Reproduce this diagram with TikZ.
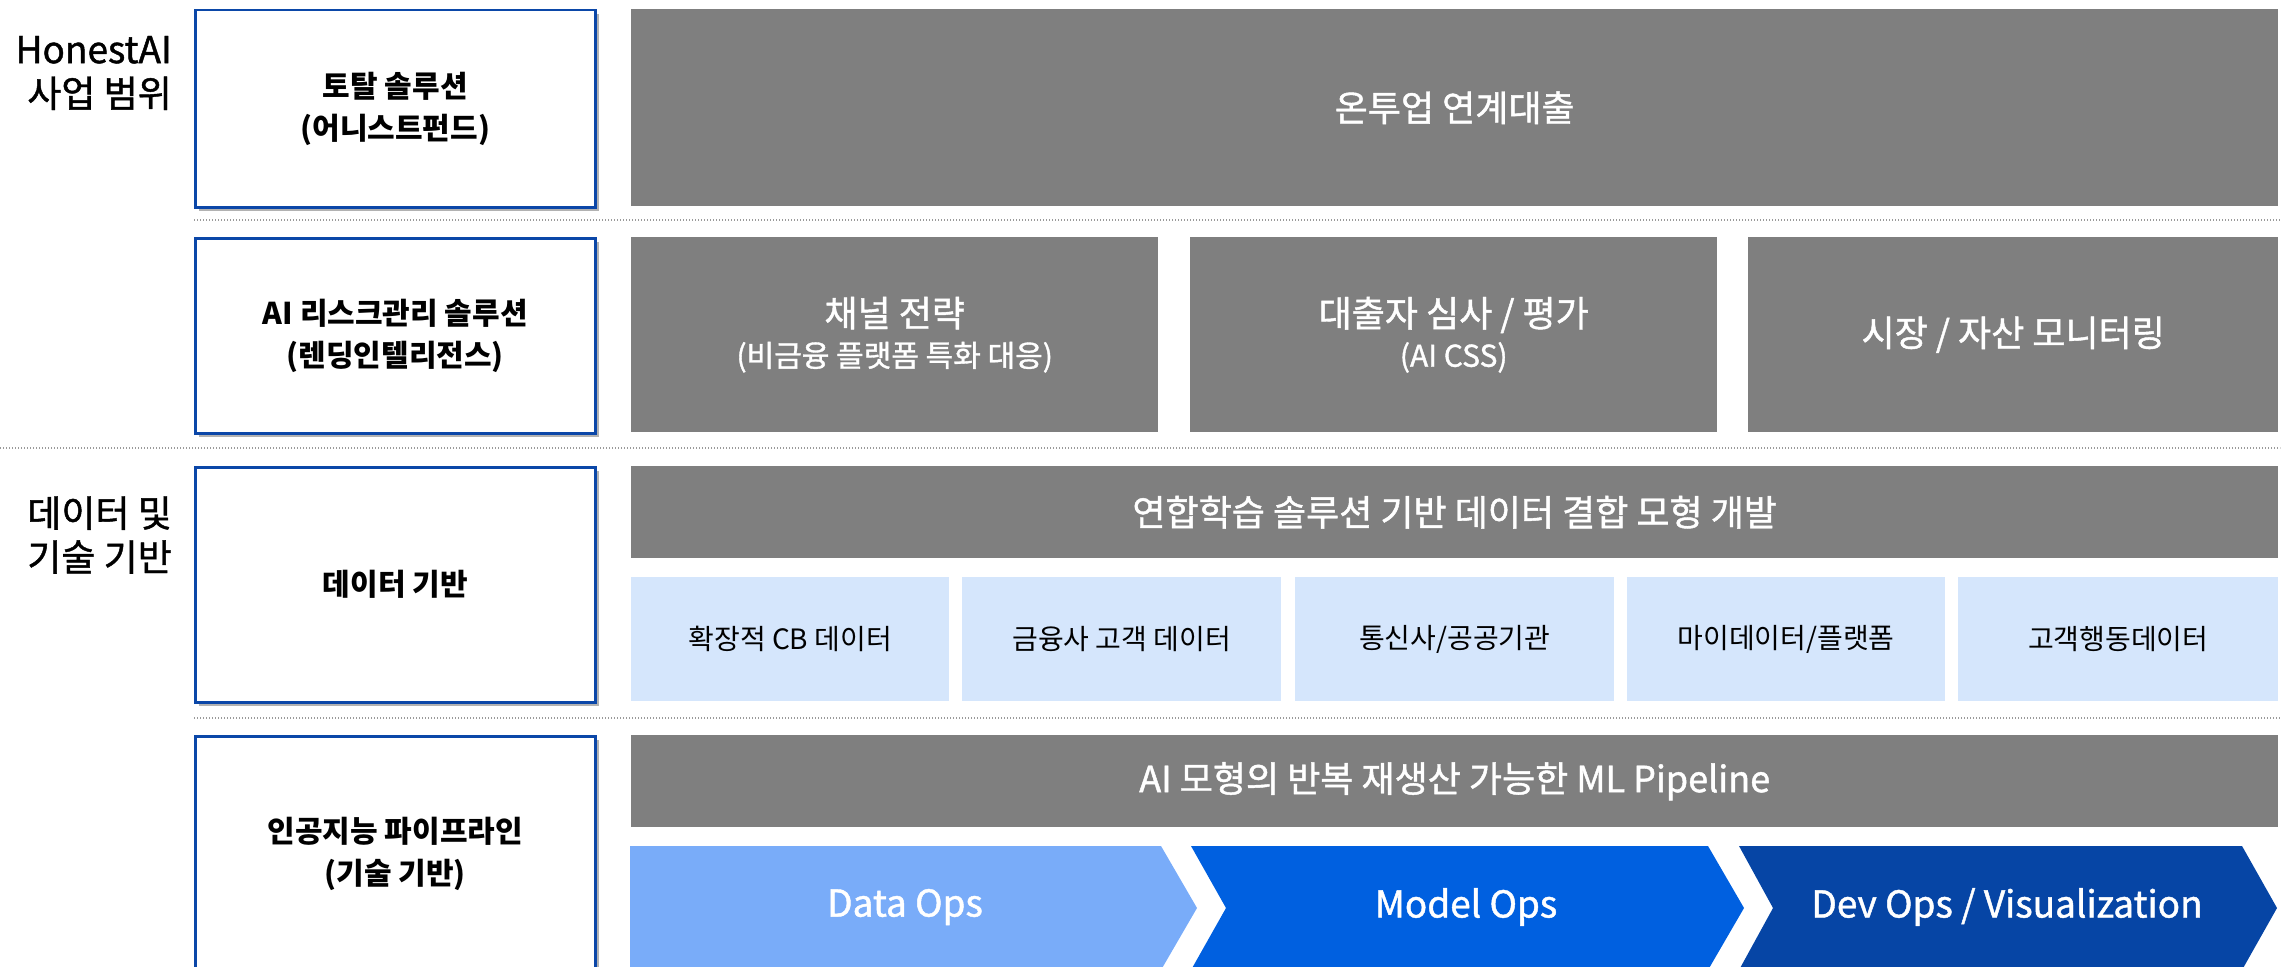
\documentclass[tikz,border=0pt]{standalone}
\usepackage{fontspec}
\setmainfont{Noto Sans CJK KR}
\newfontfamily\medfont[FakeBold=1.2]{Noto Sans CJK KR}
\usetikzlibrary{shadows}
\definecolor{boxblue}{HTML}{0B47A8}
\definecolor{grayfill}{HTML}{7F7F7F}
\definecolor{lightbox}{HTML}{D5E6FC}
\definecolor{chevA}{HTML}{79ACF9}
\definecolor{chevB}{HTML}{0060E0}
\definecolor{chevC}{HTML}{0645A5}
\definecolor{dotgray}{HTML}{9A9A9A}
\tikzset{
  scopebox/.style={draw=boxblue, line width=2.5pt, fill=white,
    drop shadow={shadow xshift=4pt, shadow yshift=-4pt, opacity=0.3, fill=black},
    align=center, anchor=north west, inner sep=0pt, minimum width=400pt,
    font=\fontsize{30}{42}\selectfont\bfseries},
  graybox/.style={fill=grayfill, text=white, anchor=north west, inner sep=0pt,
    align=center, font=\fontsize{36}{42}\selectfont\medfont},
  databox/.style={fill=lightbox, text=black, anchor=north west, inner sep=0pt,
    minimum height=124pt, align=center, font=\fontsize{28}{32}\selectfont},
  sidelabel/.style={anchor=east, align=right, inner sep=0pt, font=\fontsize{37}{44}\selectfont\medfont},
  sep/.style={dotgray, line width=1.3pt, dash pattern=on 1.3pt off 1.7pt},
  chevtext/.style={text=white, inner sep=0pt, font=\fontsize{37}{42}\selectfont\medfont},
  subfont/.style={font=\fontsize{30}{34}\selectfont}
}
\newcommand{\subtxt}[1]{{\fontsize{30}{34}\selectfont #1}}
\begin{document}
\begin{tikzpicture}[x=1pt,y=-1pt]
\useasboundingbox (0,0) rectangle (2290,966);
\clip (0,0) rectangle (2290,966);

% side labels
\node[sidelabel] (lab1) at (172,73) {HonestAI\\사업 범위};
\node[sidelabel] (lab2) at (172,535) {데이터 및\\기술 기반};

% separators
\coordinate (s1a) at (194,220); \coordinate (s1b) at (2280,220);
\coordinate (s2a) at (0,448);   \coordinate (s2b) at (2280,448);
\coordinate (s3a) at (194,718); \coordinate (s3b) at (2280,718);
\draw[sep] (s1a) -- (s1b);
\draw[sep] (s2a) -- (s2b);
\draw[sep] (s3a) -- (s3b);

% left scope boxes
\node[scopebox, minimum height=197pt] (b1) at (194,9) {토탈 솔루션\\(어니스트펀드)};
\node[scopebox, minimum height=195pt] (b2) at (194,237) {AI 리스크관리 솔루션\\(렌딩인텔리전스)};
\node[scopebox, minimum height=235pt] (b3) at (194,466) {데이터 기반};
\node[scopebox, minimum height=235pt] (b4) at (194,735) {인공지능 파이프라인\\(기술 기반)};

% row 1
\node[graybox, minimum width=1647pt, minimum height=197pt] (g1) at (631,9) {온투업 연계대출};

% row 2
\node[graybox, minimum width=527pt, minimum height=195pt] (g2a) at (631,237)
  {채널 전략\\[-2pt]\subtxt{(비금융 플랫폼 특화 대응)}};
\node[graybox, minimum width=527pt, minimum height=195pt] (g2b) at (1190,237)
  {대출자 심사 / 평가\\[-2pt]\subtxt{(AI CSS)}};
\node[graybox, minimum width=530pt, minimum height=195pt] (g2c) at (1748,237) {시장 / 자산 모니터링};

% row 3
\node[graybox, minimum width=1647pt, minimum height=92pt] (g3) at (631,466) {연합학습 솔루션 기반 데이터 결합 모형 개발};
\node[databox, minimum width=318pt] (d1) at (631,577) {확장적 CB 데이터};
\node[databox, minimum width=319pt] (d2) at (962,577) {금융사 고객 데이터};
\node[databox, minimum width=319pt] (d3) at (1295,577) {통신사/공공기관};
\node[databox, minimum width=318pt] (d4) at (1627,577) {마이데이터/플랫폼};
\node[databox, minimum width=320pt] (d5) at (1958,577) {고객행동데이터};

% row 4
\node[graybox, minimum width=1647pt, minimum height=92pt] (g4) at (631,735) {AI 모형의 반복 재생산 가능한 ML Pipeline};

% chevrons
\fill[chevA] (630,846) -- (1161,846) -- (1197,908) -- (1161,970) -- (630,970) -- cycle;
\fill[chevB] (1191,846) -- (1708,846) -- (1744,908) -- (1708,970) -- (1191,970) -- (1226,908) -- cycle;
\fill[chevC] (1739,846) -- (2242,846) -- (2277,908) -- (2242,970) -- (1739,970) -- (1773,908) -- cycle;
\node[chevtext] (c1) at (905,907) {Data Ops};
\node[chevtext] (c2) at (1466,907) {Model Ops};
\node[chevtext] (c3) at (2007,907) {Dev Ops / Visualization};
\end{tikzpicture}
\end{document}
